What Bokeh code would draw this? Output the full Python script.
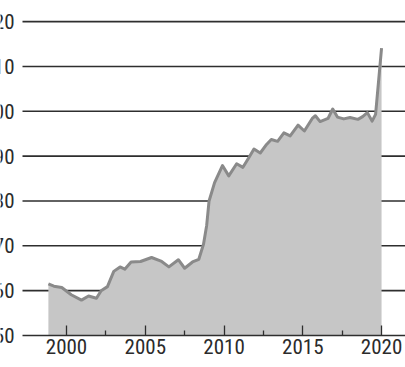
from bokeh.plotting import figure
from bokeh.models import Range1d, FixedTicker, Label
from bokeh.embed import file_html
from bokeh.resources import INLINE

# ---- data ----
years = [1998.85, 1999.2, 1999.7, 2000.3, 2000.95, 2001.4, 2001.9, 2002.2, 2002.6,
         2003.0, 2003.4, 2003.7, 2004.1, 2004.7, 2005.4, 2006.0, 2006.5, 2007.1,
         2007.5, 2008.0, 2008.4, 2008.7, 2008.9, 2009.05, 2009.4, 2009.9, 2010.3,
         2010.8, 2011.2, 2011.6, 2011.9, 2012.3, 2012.7, 2013.0, 2013.4, 2013.8,
         2014.2, 2014.7, 2015.1, 2015.6, 2015.8, 2016.1, 2016.6, 2016.9, 2017.2,
         2017.6, 2018.0, 2018.5, 2018.8, 2019.1, 2019.4, 2019.62, 2020.0]
values = [61.5, 61.0, 60.7, 59.1, 57.9, 58.8, 58.3, 60.0, 60.9,
          64.3, 65.3, 64.8, 66.4, 66.5, 67.4, 66.6, 65.3, 66.9,
          65.0, 66.4, 67.0, 70.4, 74.6, 80.0, 84.1, 87.9, 85.6,
          88.3, 87.5, 89.8, 91.6, 90.7, 92.6, 93.7, 93.3, 95.2,
          94.5, 96.9, 95.6, 98.4, 99.0, 97.7, 98.4, 100.5, 98.7,
          98.3, 98.6, 98.2, 98.8, 99.7, 97.8, 99.3, 114.1]

ytick_values = [50, 60, 70, 80, 90, 100, 110, 120]
ytick_labels = ["50", "60", "70", "80", "90", "100", "110", "120"]
xtick_values = [2000, 2005, 2010, 2015, 2020]
xtick_labels = ["2000", "2005", "2010", "2015", "2020"]
xminor_values = [2002.5, 2007.5, 2012.5, 2017.5]

# ---- style ----
FONT = "'Roboto Condensed', 'Liberation Sans Narrow', Roboto, sans-serif"
FONT_SIZE = "21px"
TEXT = "#2b2b2b"
LINE = "#2e2e2e"
FILL = "#c6c6c6"
EDGE = "#8a8a8a"
W, H = 405, 367
X0, X1 = 1995.81, 2021.52
Y0, Y1 = 42.87, 124.7
px_per_year = W / (X1 - X0)
line_start = X0 + 22 / px_per_year
base = ytick_values[0]

p = figure(width=W, height=H, output_backend="svg", toolbar_location=None,
           x_range=Range1d(X0, X1), y_range=Range1d(Y0, Y1),
           y_axis_location=None,
           min_border_left=0, min_border_right=0, min_border_top=0,
           min_border_bottom=0)
p.xgrid.visible = False
p.ygrid.visible = False
p.outline_line_color = None
p.background_fill_color = "white"
p.border_fill_color = "white"

grid_levels = ytick_values[1:]
p.segment(x0=[line_start] * len(grid_levels), y0=grid_levels,
          x1=[X1] * len(grid_levels), y1=grid_levels,
          line_color=LINE, line_width=1.6)

p.varea(x=years, y1=[base] * len(years), y2=values, fill_color=FILL)
p.line(years, values, line_color=EDGE, line_width=3, line_join="round")

for v, t in zip(ytick_values, ytick_labels):
    p.add_layout(Label(x=14, y=v, text=t, x_units="screen", y_units="data",
                       text_align="right", text_baseline="middle",
                       text_font=FONT, text_font_size=FONT_SIZE,
                       text_color=TEXT))

ax = p.xaxis[0]
ax.fixed_location = base
ax.ticker = FixedTicker(ticks=xtick_values, minor_ticks=xminor_values)
ax.major_label_overrides = {v: l for v, l in zip(xtick_values, xtick_labels)}
ax.bounds = (line_start, X1)
ax.axis_line_color = LINE
ax.axis_line_width = 1.6
ax.major_tick_in = 10
ax.major_tick_out = 0
ax.minor_tick_in = 5
ax.minor_tick_out = 0
ax.major_tick_line_color = LINE
ax.major_tick_line_width = 1.3
ax.minor_tick_line_color = LINE
ax.minor_tick_line_width = 1.3
ax.major_label_standoff = 3
ax.major_label_text_font = FONT
ax.major_label_text_font_size = FONT_SIZE
ax.major_label_text_color = TEXT

open("out.html", "w").write(file_html(p, INLINE))
